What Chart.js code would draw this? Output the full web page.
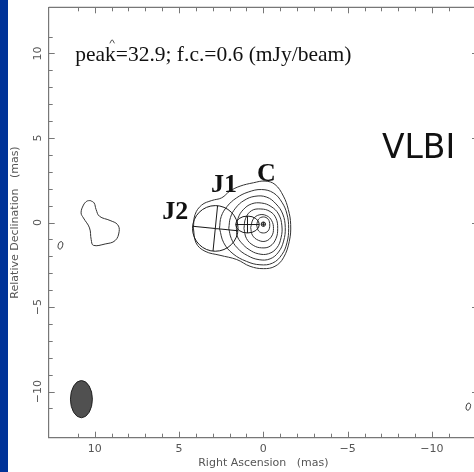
<!DOCTYPE html>
<html>
<head>
<meta charset="utf-8">
<script src="https://cdn.jsdelivr.net/npm/chart.js@4/dist/chart.umd.min.js"></script>
<style>
  html, body { margin: 0; padding: 0; background: #fff; overflow: hidden; }
  #wrap { position: relative; width: 482px; height: 472px; }
  #stripe { position: absolute; left: 0; top: 0; width: 8px; height: 472px; background: #003399; }
</style>
</head>
<body>
<div id="wrap">
  <div id="stripe"></div>
  <canvas id="map"></canvas>
</div>
<script>
"use strict";

// Contour lines (RA offset in mas, Dec offset in mas), outermost first
const contour1 = [[4.15,-0.32],[4.05,0.47],[3.66,1.03],[3.06,1.30],[2.47,1.46],[1.98,1.86],[1.38,2.15],[0.59,2.35],[-0.10,2.45],[-0.69,2.25],[-1.19,1.56],[-1.48,0.77],[-1.62,-0.12],[-1.54,-1.11],[-1.19,-2.09],[-0.69,-2.59],[0.0,-2.73],[0.79,-2.59],[1.58,-2.19],[2.57,-1.94],[3.46,-1.70],[3.99,-1.21]];
const contour2 = [[2.6,-0.35],[2.5,0.35],[2.15,0.95],[1.6,1.45],[0.9,1.8],[0.1,1.95],[-0.6,1.75],[-1.1,1.2],[-1.4,0.5],[-1.5,-0.35],[-1.4,-1.2],[-1.1,-1.9],[-0.55,-2.4],[0.2,-2.5],[1.0,-2.3],[1.8,-1.85],[2.35,-1.2]];
const contour3 = [[2.05,-0.35],[1.95,0.3],[1.65,0.85],[1.15,1.3],[0.5,1.55],[-0.2,1.5],[-0.75,1.1],[-1.15,0.5],[-1.3,-0.3],[-1.2,-1.1],[-0.9,-1.75],[-0.4,-2.15],[0.25,-2.2],[0.95,-1.95],[1.55,-1.5],[1.9,-0.95]];
const contour4 = [[1.6,-0.35],[1.5,0.25],[1.2,0.75],[0.7,1.1],[0.1,1.15],[-0.45,0.95],[-0.9,0.5],[-1.1,-0.2],[-1.05,-0.9],[-0.8,-1.5],[-0.3,-1.85],[0.3,-1.85],[0.85,-1.6],[1.3,-1.2],[1.55,-0.8]];
const contour5 = [[1.15,-0.35],[1.05,0.25],[0.7,0.7],[0.15,0.8],[-0.4,0.65],[-0.75,0.25],[-0.85,-0.35],[-0.75,-0.95],[-0.4,-1.4],[0.1,-1.5],[0.6,-1.35],[1.0,-0.95]];
const contour6 = [[0.75,-0.3],[0.6,0.2],[0.25,0.45],[-0.2,0.4],[-0.5,0.1],[-0.6,-0.35],[-0.5,-0.8],[-0.15,-1.1],[0.3,-1.05],[0.65,-0.75]];
const contour7 = [[0.4,-0.15],[0.28,0.2],[0.0,0.33],[-0.28,0.2],[-0.38,-0.15],[-0.28,-0.5],[0.0,-0.62],[0.28,-0.5]];
const blobEast = [[10.27,1.30],[10.04,1.16],[9.92,0.77],[9.72,0.37],[9.09,0.12],[8.65,-0.12],[8.55,-0.52],[8.79,-1.07],[9.38,-1.27],[10.08,-1.35],[10.21,-1.01],[10.31,-0.32],[10.67,0.27],[10.81,0.57],[10.67,1.03],[10.47,1.26]];
const blobSmallE = [[11.98,-1.13],[11.9,-1.2],[11.9,-1.35],[11.98,-1.53],[12.08,-1.57],[12.16,-1.5],[12.17,-1.35],[12.1,-1.18]];
const blobSmallW = [[-12.2,-10.68],[-12.28,-10.75],[-12.28,-10.9],[-12.2,-11.07],[-12.1,-11.1],[-12.03,-11.03],[-12.03,-10.88],[-12.1,-10.72]];
const arcNorth = [[9.1,10.6],[8.97,10.8],[8.83,10.6]];

const closedContours = [contour1, contour2, contour3, contour4, contour5, contour6, contour7,
                        blobEast, blobSmallE, blobSmallW];

// Model components: centre (x, y), half axes (a, b), cross rotation (rad)
const components = [
  { x: 2.85, y: -0.35, a: 1.35, b: 1.35, rot: 0.1 },
  { x: 0.94, y: -0.12, a: 0.7, b: 0.5, rot: 0 },
  { x: 0.0, y: -0.1, a: 0.13, b: 0.13, rot: 0 }
];

// Restoring beam
const beam = { x: 10.79, y: -10.45, a: 0.65, b: 1.1 };

// Axis range and labels
const axisMin = -12.73;
const axisMax = 12.73;
const labelStep = 5;

const annotations = [
  { text: 'peak=32.9; f.c.=0.6 (mJy/beam)', x: 11.16, y: 9.56, font: '21.5px "Liberation Serif"' },
  { text: 'VLBI', x: -7.03, y: 3.81, font: '33px "DejaVu Sans"' },
  { text: 'J2', x: 6.0, y: 0.2, font: 'bold 26px "Liberation Serif"' },
  { text: 'J1', x: 3.1, y: 1.8, font: 'bold 26px "Liberation Serif"' },
  { text: 'C', x: 0.37, y: 2.45, font: 'bold 26px "Liberation Serif"' }
];

function toPoints(arr, close) {
  const pts = arr.map(p => ({ x: p[0], y: p[1] }));
  if (close) pts.push({ x: arr[0][0], y: arr[0][1] });
  return pts;
}

function tickLabel(v) {
  if (!Number.isInteger(v) || v % labelStep !== 0) return '';
  return v < 0 ? '\u2212' + Math.abs(v) : String(v);
}

const datasets = closedContours.map(c => ({
  data: toPoints(c, true),
  showLine: true,
  borderColor: '#333',
  borderWidth: 1,
  pointRadius: 0,
  tension: 0.4
}));
datasets.push({
  data: toPoints(arcNorth, false),
  showLine: true, borderColor: '#444', borderWidth: 1, pointRadius: 0, tension: 0.4
});

const mapDecor = {
  id: 'mapDecor',
  afterDatasetsDraw(chart) {
    const { ctx, scales: { x, y } } = chart;
    ctx.save();
    // beam
    let cx = x.getPixelForValue(beam.x), cy = y.getPixelForValue(beam.y);
    let rx = Math.abs(x.getPixelForValue(beam.x + beam.a) - cx);
    let ry = Math.abs(y.getPixelForValue(beam.y + beam.b) - cy);
    ctx.beginPath();
    ctx.ellipse(cx, cy, rx, ry, 0, 0, 2 * Math.PI);
    ctx.fillStyle = '#505050';
    ctx.fill();
    ctx.strokeStyle = '#222';
    ctx.lineWidth = 1;
    ctx.stroke();
    // components
    ctx.strokeStyle = '#1a1a1a';
    for (const c of components) {
      cx = x.getPixelForValue(c.x);
      cy = y.getPixelForValue(c.y);
      rx = Math.abs(x.getPixelForValue(c.x + c.a) - cx);
      ry = Math.abs(y.getPixelForValue(c.y + c.b) - cy);
      ctx.beginPath();
      ctx.ellipse(cx, cy, rx, ry, 0, 0, 2 * Math.PI);
      ctx.stroke();
      ctx.save();
      ctx.translate(cx, cy);
      ctx.rotate(c.rot);
      ctx.beginPath();
      ctx.moveTo(-rx, 0); ctx.lineTo(rx, 0);
      ctx.moveTo(0, -ry); ctx.lineTo(0, ry);
      ctx.stroke();
      ctx.restore();
    }
    // text
    ctx.fillStyle = '#111';
    ctx.textBaseline = 'alphabetic';
    ctx.textAlign = 'left';
    for (const a of annotations) {
      ctx.font = a.font;
      ctx.fillText(a.text, x.getPixelForValue(a.x), y.getPixelForValue(a.y));
    }
    ctx.restore();
  },
  afterDraw(chart) {
    const { ctx, chartArea: area, scales: { x, y } } = chart;
    ctx.save();
    ctx.strokeStyle = '#777';
    ctx.lineWidth = 1.2;
    ctx.beginPath();
    ctx.moveTo(area.left, area.top);
    ctx.lineTo(area.right, area.top);
    ctx.lineTo(area.right, area.bottom);
    ctx.stroke();
    ctx.lineWidth = 1;
    ctx.beginPath();
    for (const t of x.ticks) {
      if (!Number.isInteger(t.value)) continue;
      const p = Math.round(x.getPixelForValue(t.value)) + 0.5;
      const len = t.value % labelStep === 0 ? 6 : 4;
      ctx.moveTo(p, area.bottom); ctx.lineTo(p, area.bottom - len);
      ctx.moveTo(p, area.top); ctx.lineTo(p, area.top + len);
    }
    for (const t of y.ticks) {
      if (!Number.isInteger(t.value)) continue;
      const p = Math.round(y.getPixelForValue(t.value)) + 0.5;
      const len = t.value % labelStep === 0 ? 6 : 4;
      ctx.moveTo(area.left, p); ctx.lineTo(area.left + len, p);
      ctx.moveTo(area.right, p); ctx.lineTo(area.right - len, p);
    }
    ctx.stroke();
    ctx.restore();
  }
};

const tickFont = { family: '"DejaVu Sans"', size: 11 };

new Chart(document.getElementById('map'), {
  type: 'scatter',
  data: { datasets: datasets },
  options: {
    responsive: true,
    maintainAspectRatio: false,
    animation: false,
    layout: { padding: { left: 0, right: 4, top: 7.3, bottom: 0 } },
    plugins: { legend: { display: false }, tooltip: { enabled: false } },
    scales: {
      x: {
        type: 'linear',
        reverse: true,
        min: axisMin,
        max: axisMax,
        grid: { display: false },
        border: { display: true, color: '#777', width: 1.2 },
        ticks: { stepSize: 1, autoSkip: false, maxRotation: 0, padding: -3,
                 color: '#555', font: tickFont, callback: tickLabel },
        title: { display: true, text: 'Right Ascension   (mas)', color: '#555',
                 font: tickFont, padding: { top: 0, bottom: 2.4 } },
        afterFit(scale) { scale.height = 34.3; }
      },
      y: {
        type: 'linear',
        min: axisMin,
        max: axisMax,
        grid: { display: false },
        border: { display: true, color: '#777', width: 1.2 },
        ticks: { stepSize: 1, autoSkip: false, minRotation: 90, maxRotation: 90,
                 crossAlign: 'center', padding: -9,
                 color: '#555', font: tickFont, callback: tickLabel },
        title: { display: true, text: 'Relative Declination   (mas)', color: '#555',
                 font: tickFont, padding: { top: 9, bottom: 0 } },
        afterFit(scale) { scale.width = 48.7; }
      }
    }
  },
  plugins: [mapDecor]
});
</script>
</body>
</html>
